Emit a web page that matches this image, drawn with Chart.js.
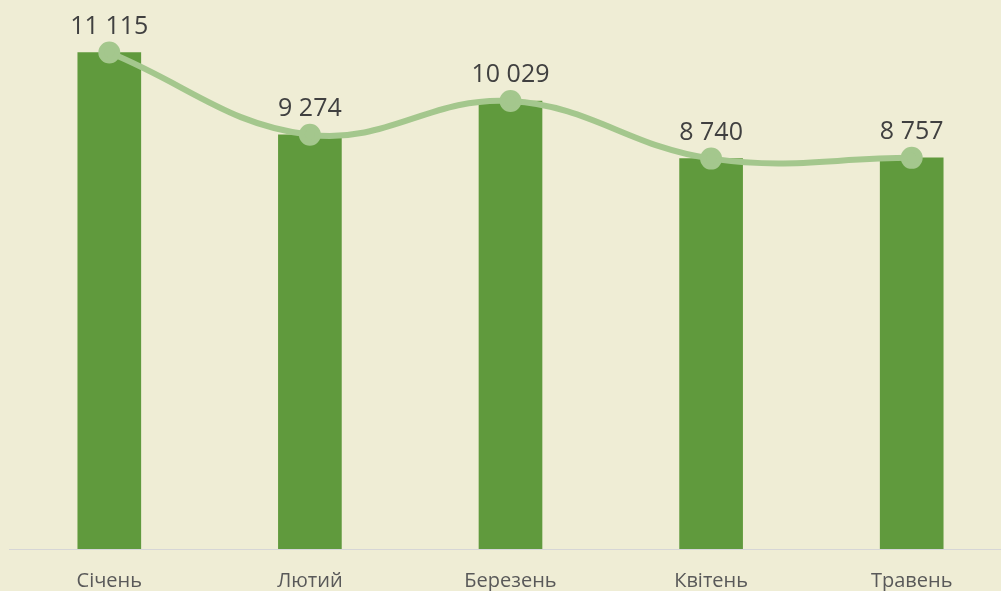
<!DOCTYPE html>
<html>
<head>
<meta charset="utf-8">
<script src="https://cdn.jsdelivr.net/npm/chart.js@4"></script>
<style>
  html, body { margin: 0; padding: 0; background: #efedd5; overflow: hidden; }
  .wrap { width: 1012px; height: 591px; }
</style>
</head>
<body>
<div class="wrap"><canvas id="months-chart" width="1012" height="591"></canvas></div>
<script>
// Months and counts
const months = ['Січень', 'Лютий', 'Березень', 'Квітень', 'Травень'];
const counts = [11115, 9274, 10029, 8740, 8757];
const countLabels = ['11 115', '9 274', '10 029', '8 740', '8 757'];

// Draw value labels above the line points
const valueLabels = {
  id: 'valueLabels',
  afterDatasetsDraw(chart) {
    const ctx = chart.ctx;
    const meta = chart.getDatasetMeta(0);
    ctx.save();
    ctx.font = '25px "Open Sans"';
    ctx.fillStyle = '#404040';
    ctx.textAlign = 'center';
    ctx.textBaseline = 'middle';
    meta.data.forEach((pt, i) => {
      ctx.fillText(countLabels[i], pt.x, pt.y - 26);
    });
    ctx.restore();
  }
};

const ctx = document.getElementById('months-chart').getContext('2d');
new Chart(ctx, {
  data: {
    labels: months,
    datasets: [
      {
        type: 'line',
        data: counts,
        borderColor: '#a4c78d',
        backgroundColor: '#a4c78d',
        borderWidth: 6,
        pointRadius: 8,
        pointHoverRadius: 8,
        tension: 0.4,
        clip: false,
        order: 0
      },
      {
        type: 'bar',
        data: counts,
        backgroundColor: '#609a3d',
        barThickness: 63,
        order: 1
      }
    ]
  },
  options: {
    responsive: false,
    animation: false,
    layout: { autoPadding: false, padding: { top: 13, left: 9, right: 0, bottom: 0 } },
    plugins: { legend: { display: false }, tooltip: { enabled: false } },
    scales: {
      x: {
        offset: true,
        grid: { display: false, drawTicks: false },
        border: { color: '#d6d6d6', width: 1 },
        ticks: { color: '#595959', font: { family: 'Open Sans', size: 20 }, padding: 20 },
        afterFit(scale) {
          scale.height = 42;
          scale.paddingLeft = 0;
          scale.paddingRight = 0;
        }
      },
      y: {
        display: false,
        min: 0,
        max: 12000
      }
    }
  },
  plugins: [valueLabels]
});
</script>
</body>
</html>
